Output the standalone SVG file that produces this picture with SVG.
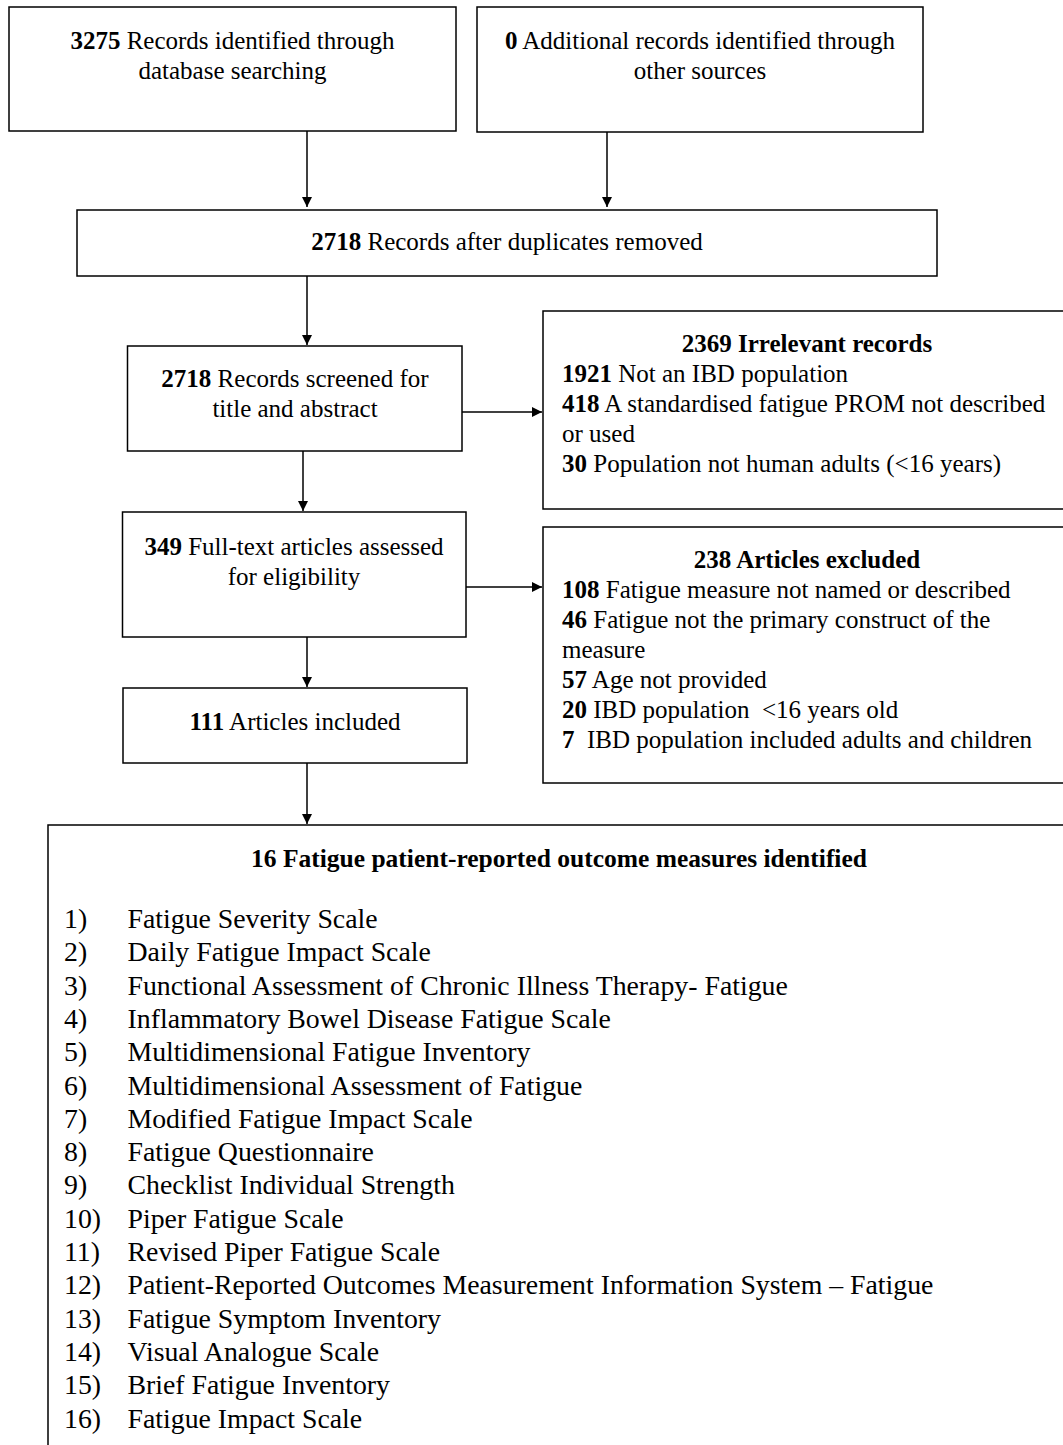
<svg xmlns="http://www.w3.org/2000/svg" width="1063" height="1445" viewBox="0 0 1063 1445">
<style>
  .box { fill: #fff; stroke: #000; stroke-width: 1.5; }
  .t { font-family: "Liberation Serif", "Times New Roman", serif; font-size: 25px; fill: #000; }
  .c { text-anchor: middle; }
  .b { font-weight: bold; }
  .l { font-family: "Liberation Serif", "Times New Roman", serif; font-size: 27.8px; fill: #000; }
  .h { font-family: "Liberation Serif", "Times New Roman", serif; font-size: 25.5px; font-weight: bold; fill: #000; text-anchor: middle; }
  .edge { stroke: #000; stroke-width: 1.5; fill: none; }
</style>
<defs>
  <marker id="arr" viewBox="0 0 10 10" refX="10" refY="5" markerWidth="10" markerHeight="10" markerUnits="userSpaceOnUse" orient="auto">
    <path d="M0,0 L10,5 L0,10 Z" fill="#000"/>
  </marker>
</defs>
<rect width="1063" height="1445" fill="#fff"/>

<g id="connectors">
  <line class="edge" x1="307" y1="131" x2="307" y2="207" marker-end="url(#arr)"/>
  <line class="edge" x1="607" y1="132" x2="607" y2="207" marker-end="url(#arr)"/>
  <line class="edge" x1="307" y1="276" x2="307" y2="345" marker-end="url(#arr)"/>
  <line class="edge" x1="462" y1="412" x2="542" y2="412" marker-end="url(#arr)"/>
  <line class="edge" x1="303" y1="451" x2="303" y2="511" marker-end="url(#arr)"/>
  <line class="edge" x1="466" y1="587" x2="542" y2="587" marker-end="url(#arr)"/>
  <line class="edge" x1="307" y1="637" x2="307" y2="687" marker-end="url(#arr)"/>
  <line class="edge" x1="307" y1="763" x2="307" y2="824" marker-end="url(#arr)"/>
</g>

<g id="n-db">
  <rect class="box" x="9" y="7" width="447" height="124"/>
  <text class="t c" x="232.5" y="49"><tspan class="b">3275</tspan> Records identified through</text>
  <text class="t c" x="232.5" y="79">database searching</text>
</g>

<g id="n-other">
  <rect class="box" x="477" y="7" width="446" height="125"/>
  <text class="t c" x="700" y="49"><tspan class="b">0</tspan> Additional records identified through</text>
  <text class="t c" x="700" y="79">other sources</text>
</g>

<g id="n-dup">
  <rect class="box" x="77" y="210" width="860" height="66"/>
  <text class="t c" x="507" y="250"><tspan class="b">2718</tspan> Records after duplicates removed</text>
</g>

<g id="n-screen">
  <rect class="box" x="127.5" y="346" width="334.5" height="105"/>
  <text class="t c" x="295" y="387"><tspan class="b">2718</tspan> Records screened for</text>
  <text class="t c" x="295" y="417">title and abstract</text>
</g>

<g id="n-irrelevant">
  <rect class="box" x="543" y="311" width="540" height="198"/>
  <text class="t c b" x="807" y="352">2369 Irrelevant records</text>
  <text class="t" x="562" y="382"><tspan class="b">1921</tspan> Not an IBD population</text>
  <text class="t" x="562" y="412"><tspan class="b">418</tspan> A standardised fatigue PROM not described</text>
  <text class="t" x="562" y="442">or used</text>
  <text class="t" x="562" y="472"><tspan class="b">30</tspan> Population not human adults (&lt;16 years)</text>
</g>

<g id="n-fulltext">
  <rect class="box" x="122.5" y="512" width="343.5" height="125"/>
  <text class="t c" x="294" y="555"><tspan class="b">349</tspan> Full-text articles assessed</text>
  <text class="t c" x="294" y="585">for eligibility</text>
</g>

<g id="n-excluded">
  <rect class="box" x="543" y="527" width="540" height="256"/>
  <text class="t c b" x="807" y="568">238 Articles excluded</text>
  <text class="t" x="562" y="598"><tspan class="b">108</tspan> Fatigue measure not named or described</text>
  <text class="t" x="562" y="628"><tspan class="b">46</tspan> Fatigue not the primary construct of the</text>
  <text class="t" x="562" y="658">measure</text>
  <text class="t" x="562" y="688"><tspan class="b">57</tspan> Age not provided</text>
  <text class="t" x="562" y="718"><tspan class="b">20</tspan> IBD population&#160; &lt;16 years old</text>
  <text class="t" x="562" y="748"><tspan class="b">7</tspan>&#160; IBD population included adults and children</text>
</g>

<g id="n-included">
  <rect class="box" x="123" y="688" width="344" height="75"/>
  <text class="t c" x="295" y="730"><tspan class="b">111</tspan> Articles included</text>
</g>

<g id="n-measures">
  <rect class="box" x="48" y="825" width="1040" height="640"/>
  <text class="h" x="559" y="867">16 Fatigue patient-reported outcome measures identified</text>
  <g class="l">
    <text x="64" y="928">1)</text><text x="127.5" y="928">Fatigue Severity Scale</text>
    <text x="64" y="961.3">2)</text><text x="127.5" y="961.3">Daily Fatigue Impact Scale</text>
    <text x="64" y="994.6">3)</text><text x="127.5" y="994.6">Functional Assessment of Chronic Illness Therapy- Fatigue</text>
    <text x="64" y="1027.9">4)</text><text x="127.5" y="1027.9">Inflammatory Bowel Disease Fatigue Scale</text>
    <text x="64" y="1061.2">5)</text><text x="127.5" y="1061.2">Multidimensional Fatigue Inventory</text>
    <text x="64" y="1094.5">6)</text><text x="127.5" y="1094.5">Multidimensional Assessment of Fatigue</text>
    <text x="64" y="1127.8">7)</text><text x="127.5" y="1127.8">Modified Fatigue Impact Scale</text>
    <text x="64" y="1161.1">8)</text><text x="127.5" y="1161.1">Fatigue Questionnaire</text>
    <text x="64" y="1194.4">9)</text><text x="127.5" y="1194.4">Checklist Individual Strength</text>
    <text x="64" y="1227.7">10)</text><text x="127.5" y="1227.7">Piper Fatigue Scale</text>
    <text x="64" y="1261">11)</text><text x="127.5" y="1261">Revised Piper Fatigue Scale</text>
    <text x="64" y="1294.3">12)</text><text x="127.5" y="1294.3">Patient-Reported Outcomes Measurement Information System – Fatigue</text>
    <text x="64" y="1327.6">13)</text><text x="127.5" y="1327.6">Fatigue Symptom Inventory</text>
    <text x="64" y="1360.9">14)</text><text x="127.5" y="1360.9">Visual Analogue Scale</text>
    <text x="64" y="1394.2">15)</text><text x="127.5" y="1394.2">Brief Fatigue Inventory</text>
    <text x="64" y="1427.5">16)</text><text x="127.5" y="1427.5">Fatigue Impact Scale</text>
  </g>
</g>
</svg>
